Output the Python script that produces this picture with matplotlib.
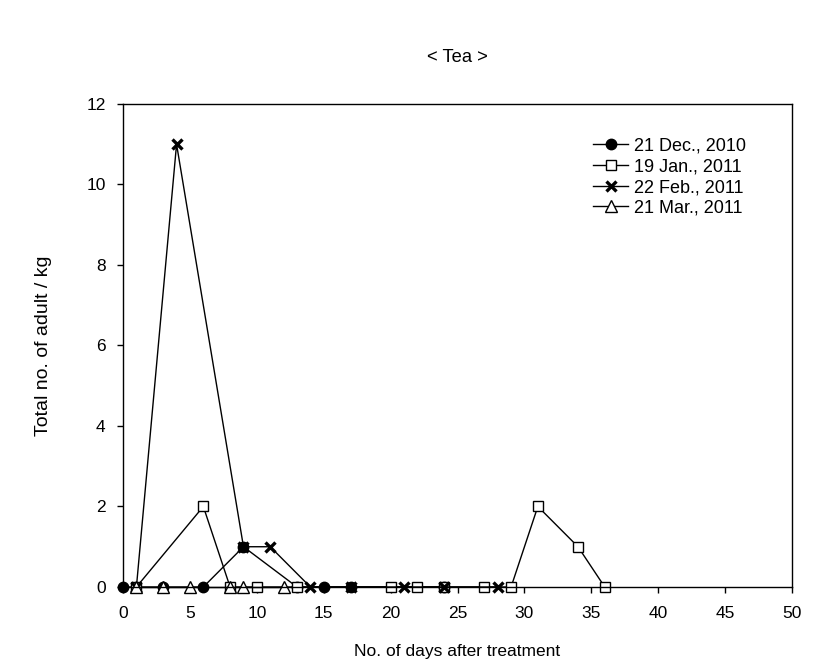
import matplotlib
matplotlib.use("Agg")
import matplotlib.pyplot as plt

plt.rcParams['font.family'] = ['Liberation Sans', 'DejaVu Sans']

# Sampling days and adult counts per kg for each treatment date
dec_days = [0, 3, 6, 9, 13, 15, 17, 24]
dec_vals = [0, 0, 0, 1, 0, 0, 0, 0]

jan_days = [1, 6, 8, 10, 13, 20, 22, 24, 27, 29, 31, 34, 36]
jan_vals = [0, 2, 0, 0, 0, 0, 0, 0, 0, 0, 2, 1, 0]

feb_days = [1, 4, 9, 11, 14, 17, 21, 24, 28]
feb_vals = [0, 11, 1, 1, 0, 0, 0, 0, 0]

mar_days = [1, 3, 5, 8, 9, 12]
mar_vals = [0, 0, 0, 0, 0, 0]

labels = ["21 Dec., 2010", "19 Jan., 2011", "22 Feb., 2011", "21 Mar., 2011"]
x_ticks = [0, 5, 10, 15, 20, 25, 30, 35, 40, 45, 50]
y_ticks = [0, 2, 4, 6, 8, 10, 12]

fig = plt.figure(figsize=(8.17, 6.70), dpi=100)
ax = fig.add_axes([0.1506, 0.1239, 0.8189, 0.7209])

common = dict(color='black', linewidth=1.0, clip_on=False)
ax.plot(dec_days, dec_vals, marker='o', markersize=7.5, markerfacecolor='black',
        markeredgecolor='black', label=labels[0], **common)
ax.plot(jan_days, jan_vals, marker='s', markersize=7.5, markerfacecolor='white',
        markeredgecolor='black', markeredgewidth=1.0, label=labels[1], **common)
ax.plot(feb_days, feb_vals, marker='x', markersize=7.5, markeredgewidth=2.4,
        markeredgecolor='black', label=labels[2], **common)
ax.plot(mar_days, mar_vals, marker='^', markersize=8, markerfacecolor='white',
        markeredgecolor='black', markeredgewidth=1.0, label=labels[3], **common)

ax.set_xlim(0, 50)
ax.set_ylim(0, 12)
ax.set_xticks(x_ticks)
ax.set_yticks(y_ticks)
ax.tick_params(direction='out', length=4.5, width=1, labelsize=12.5)
ax.tick_params(axis='x', pad=9)
ax.tick_params(axis='y', pad=8)
for s in ax.spines.values():
    s.set_linewidth(1.0)

ax.set_xlabel("No. of days after treatment", fontsize=12.5, labelpad=17)
ax.set_ylabel("Total no. of adult / kg", fontsize=14, labelpad=25)
fig.text(0.56, 0.914, "< Tea >", ha='center', va='center', fontsize=13.2)

leg = ax.legend(loc='upper left', bbox_to_anchor=(0.7025, 0.93), frameon=False,
                fontsize=13, handlelength=1.95, handletextpad=0.3,
                labelspacing=0.2, borderpad=0, borderaxespad=0)

fig.savefig("out.png", dpi=100)
